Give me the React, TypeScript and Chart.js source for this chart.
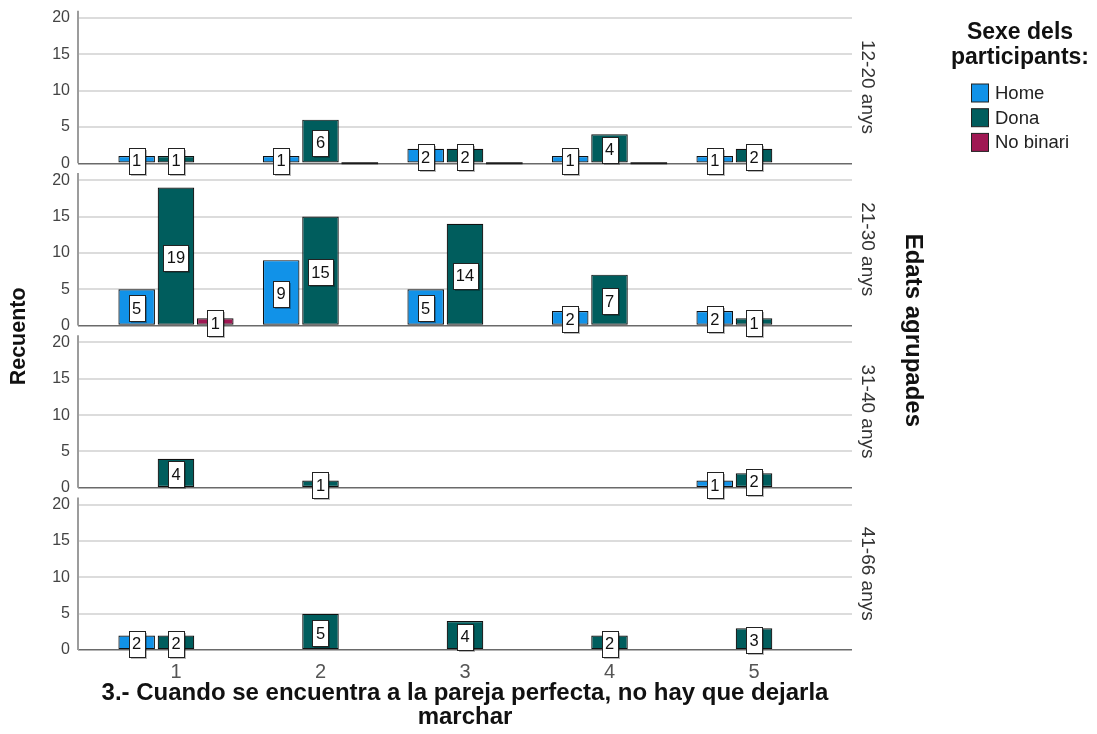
import React, { useEffect, useRef } from 'react';
import { Chart, registerables } from 'chart.js';

Chart.register(...registerables);

const FONT = '"Liberation Sans", Arial, sans-serif';

const categories = [1, 2, 3, 4, 5];
const ageGroups = ['12-20 anys', '21-30 anys', '31-40 anys', '41-66 anys'];
const seriesNames = ['Home', 'Dona', 'No binari'];
const seriesColors = ['#1192E8', '#005D5D', '#9F1853'];

// Counts per answer category (null = no bar in that cell)
const home_12_20 = [1, 1, 2, 1, 1];
const dona_12_20 = [1, 6, 2, 4, 2];
const nob_12_20 = [null, 0, 0, 0, null];

const home_21_30 = [5, 9, 5, 2, 2];
const dona_21_30 = [19, 15, 14, 7, 1];
const nob_21_30 = [1, null, null, null, null];

const home_31_40 = [null, null, null, null, 1];
const dona_31_40 = [4, 1, null, null, 2];
const nob_31_40 = [null, null, null, null, null];

const home_41_66 = [2, null, null, null, null];
const dona_41_66 = [2, 5, 4, 2, 3];
const nob_41_66 = [null, null, null, null, null];

const yTicks = [0, 5, 10, 15, 20];
const xTitle = ['3.- Cuando se encuentra a la pareja perfecta, no hay que dejarla', 'marchar'];
const yTitle = 'Recuento';
const rowTitle = 'Edats agrupades';
const legendTitle = ['Sexe dels', 'participants:'];

const panelData = [
  [home_12_20, dona_12_20, nob_12_20],
  [home_21_30, dona_21_30, nob_21_30],
  [home_31_40, dona_31_40, nob_31_40],
  [home_41_66, dona_41_66, nob_41_66],
];

const PANEL_MAX = 22.34;
const AXIS_TOP = 21;

function makeY(p: number) {
  return {
    type: 'linear',
    position: 'left',
    stack: 'rows',
    stackWeight: 1,
    weight: 10 - p,
    min: 0,
    max: PANEL_MAX,
    stacked: false,
    afterBuildTicks: (s: any) => {
      s.ticks = yTicks.map((v) => ({ value: v }));
    },
    afterFit: (s: any) => {
      s.width = 78;
      s.paddingTop = 0;
      s.paddingBottom = 0;
    },
    border: { display: false },
    grid: {
      drawTicks: false,
      color: (c: any) => (c.tick && c.tick.value === 0 ? '#6a6a6a' : '#dcdcdc'),
      lineWidth: (c: any) => (c.tick && c.tick.value === 0 ? 1.5 : 2),
    },
    ticks: {
      padding: 8,
      color: '#444',
      font: { family: FONT, size: 16 },
    },
  };
}

const decorPlugin = {
  id: 'decor',
  beforeDatasetsDraw(chart: any) {
    const ctx = chart.ctx;
    const left = chart.chartArea.left;
    ctx.save();
    ctx.strokeStyle = '#9c9c9c';
    ctx.lineWidth = 2;
    ageGroups.forEach((_, p) => {
      const sc = chart.scales['y' + p];
      ctx.beginPath();
      ctx.moveTo(left, sc.getPixelForValue(AXIS_TOP));
      ctx.lineTo(left, sc.getPixelForValue(0));
      ctx.stroke();
    });
    ctx.restore();
  },
  afterDatasetsDraw(chart: any) {
    const ctx = chart.ctx;
    chart.data.datasets.forEach((ds: any, di: number) => {
      const meta = chart.getDatasetMeta(di);
      meta.data.forEach((el: any, i: number) => {
        const v = ds.data[i].y;
        if (v === null || v === undefined) return;
        const { x, y, base, width } = el.getProps(['x', 'y', 'base', 'width'], true);
        ctx.save();
        if (v === 0) {
          ctx.fillStyle = '#1b1b1b';
          ctx.fillRect(x - width / 2, base - 1, width, 2);
          ctx.restore();
          return;
        }
        const txt = String(v);
        ctx.font = `16.5px ${FONT}`;
        const tw = ctx.measureText(txt).width;
        const bw = Math.round(tw + 7);
        const bh = 26;
        const cx = x;
        const cy = (y + base) / 2 + 1.5;
        const bx = Math.round(cx - bw / 2) + 0.5;
        const by = Math.round(cy - bh / 2) + 0.5;
        ctx.fillStyle = 'rgba(0,0,0,0.28)';
        ctx.fillRect(bx + 1.5, by + 1.5, bw, bh);
        ctx.fillStyle = '#ffffff';
        ctx.fillRect(bx, by, bw, bh);
        ctx.strokeStyle = '#222';
        ctx.lineWidth = 1;
        ctx.strokeRect(bx, by, bw, bh);
        ctx.fillStyle = '#111';
        ctx.textAlign = 'center';
        ctx.textBaseline = 'middle';
        ctx.fillText(txt, cx, cy + 1);
        ctx.restore();
      });
    });
  },
  afterDraw(chart: any) {
    const ctx = chart.ctx;
    const area = chart.chartArea;
    ctx.save();
    // Y title
    ctx.fillStyle = '#111';
    ctx.font = `bold 21.5px ${FONT}`;
    ctx.textAlign = 'center';
    ctx.textBaseline = 'middle';
    const yTop = chart.scales.y0.getPixelForValue(AXIS_TOP);
    const yBot = chart.scales.y3.getPixelForValue(0);
    ctx.save();
    ctx.translate(19, (yTop + yBot) / 2 + 6);
    ctx.rotate(-Math.PI / 2);
    ctx.fillText(yTitle, 0, 0);
    ctx.restore();
    // Row labels
    ctx.font = `19px ${FONT}`;
    ctx.fillStyle = '#333';
    ageGroups.forEach((g, p) => {
      const sc = chart.scales['y' + p];
      const cy = (sc.getPixelForValue(AXIS_TOP) + sc.getPixelForValue(0)) / 2;
      ctx.save();
      ctx.translate(area.right + 15, cy);
      ctx.rotate(Math.PI / 2);
      ctx.fillText(g, 0, 0);
      ctx.restore();
    });
    // Row title
    ctx.font = `bold 24px ${FONT}`;
    ctx.fillStyle = '#111';
    ctx.save();
    ctx.translate(area.right + 61, (yTop + yBot) / 2);
    ctx.rotate(Math.PI / 2);
    ctx.fillText(rowTitle, 0, 0);
    ctx.restore();
    // Legend
    ctx.font = `bold 23px ${FONT}`;
    ctx.fillText(legendTitle[0], 1020, 33);
    ctx.fillText(legendTitle[1], 1020, 58);
    ctx.font = `18.5px ${FONT}`;
    ctx.textAlign = 'left';
    seriesNames.forEach((name, s) => {
      const cy = 93 + s * 24.7;
      ctx.fillStyle = seriesColors[s];
      ctx.fillRect(971.5, cy - 9, 17, 18);
      ctx.strokeStyle = '#222';
      ctx.lineWidth = 1;
      ctx.strokeRect(971.5, cy - 9, 17, 18);
      ctx.fillStyle = '#222';
      ctx.fillText(name, 995, cy + 1);
    });
    ctx.restore();
  },
};

export default function App() {
  const ref = useRef<HTMLCanvasElement>(null);
  useEffect(() => {
    if (!ref.current) return;
    const datasets: any[] = [];
    panelData.forEach((series, p) => {
      series.forEach((vals, s) => {
        datasets.push({
          label: seriesNames[s],
          stack: seriesNames[s],
          yAxisID: 'y' + p,
          xAxisID: 'x',
          data: categories.map((c, i) => ({ x: c, y: vals[i] })),
          backgroundColor: seriesColors[s],
          borderColor: '#111',
          borderWidth: 1.2,
          borderSkipped: false,
          categoryPercentage: 0.816,
          barPercentage: 0.93,
        });
      });
    });
    const scales: any = {
      x: {
        type: 'linear',
        position: 'bottom',
        min: 0.322,
        max: 5.678,
        offset: false,
        stacked: true,
        afterBuildTicks: (s: any) => {
          s.ticks = categories.map((v) => ({ value: v }));
        },
        afterFit: (s: any) => {
          s.height = 84;
          s.paddingLeft = 0;
          s.paddingRight = 0;
        },
        grid: { display: false, drawTicks: false },
        border: { display: false },
        ticks: {
          padding: 10,
          color: '#555',
          font: { family: FONT, size: 20 },
          callback: (v: any) => String(v),
        },
        title: {
          display: true,
          text: xTitle,
          color: '#111',
          font: { family: FONT, size: 24, weight: 'bold', lineHeight: 1.0 },
          padding: { top: 0, bottom: 5 },
        },
      },
    };
    ageGroups.forEach((_, p) => {
      scales['y' + p] = makeY(p);
    });
    const chart = new Chart(ref.current, {
      type: 'bar',
      data: { datasets },
      options: {
        animation: false,
        responsive: false,
        maintainAspectRatio: false,
        layout: { padding: { left: 0, top: 1, right: 245, bottom: 0 } },
        plugins: {
          legend: { display: false },
          tooltip: { enabled: false },
        },
        scales,
      } as any,
      plugins: [decorPlugin],
    } as any);
    return () => chart.destroy();
  }, []);
  return (
    <div style={{ position: 'absolute', left: 0, top: 0, width: 1097, height: 734, background: '#fff' }}>
      <canvas ref={ref} width={1097} height={734} />
    </div>
  );
}
